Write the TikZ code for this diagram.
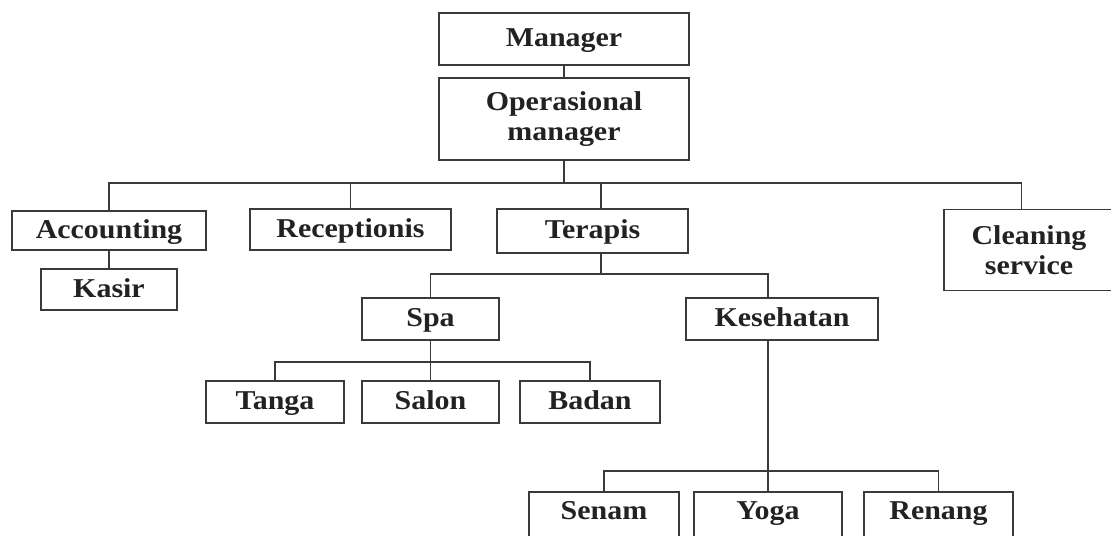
\documentclass[tikz,border=0pt]{standalone}
\usepackage{fontspec}
\setmainfont{Liberation Serif}[FakeStretch=1.1]
\usepackage{xcolor}
\definecolor{drawcolor}{HTML}{3A3A3A}
\definecolor{textcolor}{HTML}{222222}
\usepackage{tikz}

\begin{document}
\begin{tikzpicture}[
  x=0.02cm, y=-0.02cm,
  line width=1.1pt,
  drawcolor,
  box/.style={draw=drawcolor, text=textcolor, inner sep=0pt, align=center,
    font=\fontsize{15.5}{17}\selectfont\bfseries},
  one/.style={box, text height=12pt, text depth=3pt},
  low/.style={box, anchor=north, text height=0.56cm, text depth=0.84cm},
]

  \useasboundingbox (0, 0) rectangle (1111, 535);
  \clip (0, 0) rectangle (1111, 535);

  \node[one, minimum width=5cm, minimum height=1.04cm] (man) at (564, 39) {Manager};
  \node[box, minimum width=5cm, minimum height=1.64cm] (ops) at (564, 119) {Operasional\\manager};

  \node[one, minimum width=3.88cm, minimum height=0.78cm] (acc) at (109, 230.5) {Accounting};
  \node[one, minimum width=2.72cm, minimum height=0.82cm] (ksr) at (109, 289.5) {Kasir};
  \node[one, minimum width=4.02cm, minimum height=0.82cm] (rec) at (350.5, 229.5) {Receptionis};
  \node[one, minimum width=3.82cm, minimum height=0.88cm] (ter) at (592.5, 231) {Terapis};
  \node[box, minimum width=3.42cm, minimum height=1.62cm] (cln) at (1029, 250) {Cleaning\\service};

  \node[one, minimum width=2.74cm, minimum height=0.84cm] (spa) at (430.5, 319) {Spa};
  \node[one, minimum width=3.84cm, minimum height=0.84cm] (kes) at (782, 319) {Kesehatan};

  \node[one, minimum width=2.76cm, minimum height=0.84cm] (tan) at (275, 402) {Tanga};
  \node[one, minimum width=2.74cm, minimum height=0.84cm] (sal) at (430.5, 402) {Salon};
  \node[one, minimum width=2.8cm, minimum height=0.84cm] (bad) at (590, 402) {Badan};

  \node[low, minimum width=3cm] (sen) at (604, 491) {Senam};
  \node[low, minimum width=2.96cm] (yog) at (768, 491) {Yoga};
  \node[low, minimum width=2.98cm] (ren) at (938.5, 491) {Renang};

  \coordinate (opsbus) at (564, 183);
  \coordinate (terbus) at (601, 274);
  \coordinate (spabus) at (430.5, 362);
  \coordinate (kesbus) at (768, 471);

  \draw (man.south) -- (ops.north);
  \draw (ops.south) -- (opsbus);
  \foreach \n in {acc, rec}
    \draw (\n.north) |- (opsbus);
  \draw ([xshift=0.17cm]ter.north) |- (opsbus);
  \draw ([xshift=-0.15cm]cln.north) |- (opsbus);
  \draw (acc.south) -- (ksr.north);

  \draw ([xshift=0.17cm]ter.south) -- (terbus);
  \draw (spa.north) |- (terbus);
  \draw ([xshift=-0.28cm]kes.north) |- (terbus);

  \draw (spa.south) -- (sal.north);
  \foreach \n in {tan, bad}
    \draw (\n.north) |- (spabus);

  \draw ([xshift=-0.28cm]kes.south) -- (yog.north);
  \foreach \n in {sen, ren}
    \draw (\n.north) |- (kesbus);
\end{tikzpicture}
\end{document}
